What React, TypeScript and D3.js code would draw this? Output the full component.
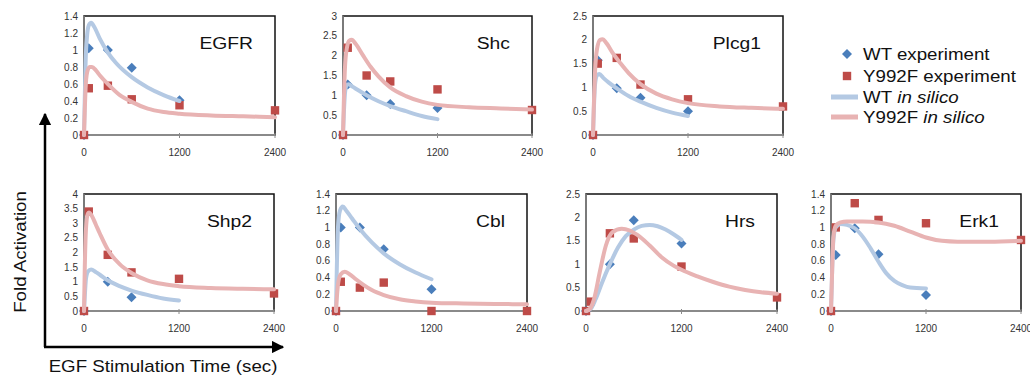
import * as d3 from "d3";

// panel titles and y ranges
const panelNames = ["EGFR", "Shc", "Plcg1", "Shp2", "Cbl", "Hrs", "Erk1"];
const panelYMax = [1.4, 3, 2.5, 4, 1.4, 2.5, 1.4];
const panelYStep = [0.2, 0.5, 0.5, 0.5, 0.2, 0.5, 0.2];
const xTicks = [0, 1200, 2400];

// experiment sampling times (sec)
const wtTimes = [0, 60, 300, 600, 1200];
const y992fTimes = [0, 60, 300, 600, 1200, 2400];

// experiment values, one row per panel (null = not shown)
const wtExperiment: (number | null)[][] = [
  [0, 1.02, 1.0, 0.79, 0.41],
  [0, 1.27, 1.0, 0.78, 0.68],
  [0, 1.57, 0.98, 0.78, 0.5],
  [0, null, 1.0, 0.47, null],
  [0, 1.0, 1.0, 0.74, 0.26],
  [0, null, 1.0, 1.94, 1.44],
  [0, 0.67, 0.99, 0.68, 0.19],
];
const y992fExperiment: (number | null)[][] = [
  [0, 0.55, 0.58, 0.42, 0.35, 0.29],
  [0, 2.2, 1.5, 1.35, 1.15, 0.63],
  [0, 1.5, 1.62, 1.06, 0.75, 0.6],
  [0, 3.4, 1.92, 1.32, 1.1, 0.6],
  [0, 0.35, 0.28, 0.34, 0, 0],
  [0, 0.2, 1.66, 1.55, 0.95, 0.29],
  [0, 1.0, 1.29, 1.09, 1.05, 0.85],
];

// in silico curves, [time, value] pairs
const wtInSilico: [number, number][][] = [
  [[0, 0], [10, 0.45], [20, 0.85], [40, 1.18], [60, 1.29], [90, 1.32], [130, 1.27], [200, 1.13], [300, 0.97], [400, 0.85], [600, 0.68], [800, 0.56], [1000, 0.47], [1200, 0.4]],
  [[0, 0], [10, 0.5], [25, 1.05], [45, 1.25], [70, 1.28], [120, 1.22], [200, 1.12], [300, 1.0], [450, 0.85], [600, 0.73], [800, 0.6], [1000, 0.48], [1200, 0.4]],
  [[0, 0], [10, 0.5], [25, 1.05], [50, 1.25], [80, 1.28], [130, 1.2], [200, 1.1], [300, 0.98], [450, 0.82], [600, 0.7], [800, 0.57], [1000, 0.47], [1200, 0.4]],
  [[0, 0], [10, 0.5], [25, 1.1], [50, 1.35], [90, 1.42], [150, 1.33], [200, 1.24], [300, 1.05], [450, 0.85], [600, 0.7], [800, 0.55], [1000, 0.43], [1200, 0.36]],
  [[0, 0], [10, 0.5], [25, 1.0], [50, 1.2], [85, 1.25], [130, 1.2], [200, 1.11], [300, 0.98], [450, 0.82], [600, 0.69], [800, 0.56], [1000, 0.46], [1200, 0.38]],
  [[0, 0], [60, 0.05], [120, 0.25], [200, 0.6], [300, 1.0], [400, 1.35], [500, 1.6], [600, 1.74], [700, 1.82], [800, 1.84], [900, 1.81], [1000, 1.74], [1100, 1.64], [1200, 1.52]],
  [[0, 0], [15, 0.5], [30, 0.85], [60, 1.0], [120, 1.04], [200, 1.03], [300, 0.99], [400, 0.89], [500, 0.75], [600, 0.59], [700, 0.45], [800, 0.36], [900, 0.31], [1000, 0.28], [1200, 0.27]],
];
const y992fInSilico: [number, number][][] = [
  [[0, 0], [10, 0.3], [20, 0.55], [40, 0.74], [70, 0.8], [100, 0.8], [150, 0.76], [200, 0.7], [300, 0.6], [450, 0.47], [600, 0.39], [800, 0.31], [1000, 0.27], [1200, 0.25], [1600, 0.23], [2000, 0.22], [2400, 0.21]],
  [[0, 0], [10, 0.8], [25, 1.7], [50, 2.2], [80, 2.38], [110, 2.4], [160, 2.3], [250, 2.02], [350, 1.72], [450, 1.48], [600, 1.2], [800, 0.98], [1000, 0.84], [1200, 0.76], [1600, 0.7], [2000, 0.67], [2400, 0.64]],
  [[0, 0], [10, 0.6], [25, 1.3], [50, 1.8], [90, 2.0], [120, 2.01], [170, 1.93], [250, 1.72], [350, 1.5], [450, 1.3], [600, 1.07], [800, 0.87], [1000, 0.75], [1200, 0.67], [1600, 0.6], [2000, 0.57], [2400, 0.55]],
  [[0, 0], [10, 1.5], [25, 2.8], [45, 3.3], [65, 3.37], [100, 3.25], [150, 2.95], [200, 2.65], [300, 2.1], [450, 1.6], [600, 1.3], [800, 1.05], [1000, 0.92], [1200, 0.85], [1600, 0.79], [2000, 0.76], [2400, 0.74]],
  [[0, 0], [10, 0.15], [30, 0.35], [60, 0.44], [110, 0.47], [170, 0.44], [250, 0.38], [350, 0.31], [450, 0.25], [600, 0.19], [800, 0.14], [1000, 0.115], [1200, 0.1], [1600, 0.09], [2000, 0.085], [2400, 0.08]],
  [[0, 0], [50, 0.05], [100, 0.25], [175, 0.85], [250, 1.4], [330, 1.68], [450, 1.76], [550, 1.72], [650, 1.62], [800, 1.4], [950, 1.15], [1100, 0.97], [1200, 0.88], [1400, 0.74], [1600, 0.62], [1800, 0.52], [2000, 0.45], [2200, 0.4], [2400, 0.37]],
  [[0, 0], [15, 0.5], [30, 0.88], [60, 1.02], [120, 1.06], [200, 1.07], [400, 1.07], [600, 1.06], [800, 1.02], [1000, 0.95], [1200, 0.88], [1400, 0.84], [1600, 0.83], [2000, 0.83], [2400, 0.84]],
];

const legendLabels = ["WT experiment", "Y992F experiment", "WT", "Y992F"];

// layout of each plot area (pixels)
const boxes = [
  { l: 84, r: 275, t: 16, b: 135 },
  { l: 343, r: 532, t: 16, b: 135 },
  { l: 593, r: 783, t: 16, b: 135 },
  { l: 84, r: 274, t: 194, b: 311 },
  { l: 336, r: 527, t: 194, b: 311 },
  { l: 586, r: 777, t: 194, b: 311 },
  { l: 831, r: 1021, t: 194, b: 311 },
];

const BLUE = "#4a7ebb";
const RED = "#be4b48";
const BLUE_LINE = "#b4c9e3";
const RED_LINE = "#e8b3b3";
const FONT = "'Liberation Sans', Arial, sans-serif";
const STRETCH = 1.17;

function Diamond({ x, y }: { x: number; y: number }) {
  const s = 5;
  return <path d={`M${x},${y - s}L${x + s},${y}L${x},${y + s}L${x - s},${y}Z`} fill={BLUE} />;
}

function Square({ x, y }: { x: number; y: number }) {
  const s = 4.2;
  return <rect x={x - s} y={y - s} width={2 * s} height={2 * s} fill={RED} />;
}

function Panel({ i }: { i: number }) {
  const box = boxes[i];
  const x = d3.scaleLinear().domain([0, 2400]).range([box.l, box.r]);
  const y = d3.scaleLinear().domain([0, panelYMax[i]]).range([box.b, box.t]);
  const yTicks = d3.range(0, panelYMax[i] + 1e-9, panelYStep[i]);
  const fmt = (v: number) => String(Math.round(v * 10) / 10);
  const line = d3
    .line<[number, number]>()
    .x((d) => x(d[0]))
    .y((d) => y(d[1]))
    .curve(d3.curveMonotoneX);

  return (
    <g>
      <rect x={box.l} y={box.t} width={box.r - box.l} height={box.b - box.t} fill="white" stroke="#111" strokeWidth={1.5} />
      <line x1={box.l} x2={box.l} y1={box.t} y2={box.b} stroke="#8a8a8a" strokeWidth={1.5} />
      <line x1={box.l} x2={box.r} y1={box.b} y2={box.b} stroke="#8a8a8a" strokeWidth={2} />
      {xTicks.map((t) => (
        <g key={t}>
          <line x1={x(t)} x2={x(t)} y1={box.b - 2} y2={box.b + 3} stroke="#8a8a8a" strokeWidth={1} />
          <text x={x(t)} y={box.b + 21} textAnchor="middle" fontSize={10} fill="#333" fontFamily={FONT}>
            {t}
          </text>
        </g>
      ))}
      {yTicks.map((v) => (
        <text key={v} x={box.l - 6} y={y(v) + 3.5} textAnchor="end" fontSize={10} fill="#333" fontFamily={FONT}>
          {fmt(v)}
        </text>
      ))}
      {wtExperiment[i].map((v, k) => (v === null ? null : <Diamond key={"w" + k} x={x(wtTimes[k])} y={y(v)} />))}
      {y992fExperiment[i].map((v, k) => (v === null ? null : <Square key={"m" + k} x={x(y992fTimes[k])} y={y(v)} />))}
      <path d={line(wtInSilico[i]) || ""} fill="none" stroke={BLUE_LINE} strokeWidth={4} strokeLinecap="round" />
      <path d={line(y992fInSilico[i]) || ""} fill="none" stroke={RED_LINE} strokeWidth={4} strokeLinecap="round" />
      <text
        transform={`translate(${box.r - 22},${box.t + 33}) scale(${STRETCH},1)`}
        textAnchor="end"
        fontSize={16.5}
        fill="#111"
        fontFamily={FONT}
      >
        {panelNames[i]}
      </text>
    </g>
  );
}

function Legend() {
  const rows = [54, 76, 97, 117];
  const textX = 863;
  return (
    <g fontFamily={FONT} fontSize={16} fill="#111">
      <Diamond x={847} y={rows[0]} />
      <Square x={847} y={rows[1]} />
      <rect x={831} y={rows[2] - 2.5} width={27} height={5} fill={BLUE_LINE} />
      <rect x={831} y={rows[3] - 2.5} width={27} height={5} fill={RED_LINE} />
      {legendLabels.map((lab, k) => (
        <text key={lab} transform={`translate(${textX},${rows[k] + 5.5}) scale(${STRETCH},1)`}>
          {lab}
          {k >= 2 ? <tspan fontStyle="italic"> in silico</tspan> : null}
        </text>
      ))}
    </g>
  );
}

export default function App() {
  return (
    <svg width={1030} height={376} style={{ position: "absolute", left: 0, top: 0, background: "white" }}>
      <defs>
        <marker id="arrow" viewBox="0 0 10 10" refX={9} refY={5} markerWidth={5} markerHeight={5} orient="auto">
          <path d="M0,0L10,5L0,10Z" fill="#000" />
        </marker>
      </defs>
      {boxes.map((_, i) => (
        <Panel key={i} i={i} />
      ))}
      <Legend />
      <path d="M45,347L45,114" stroke="#000" strokeWidth={2.5} markerEnd="url(#arrow)" />
      <path d="M44,347L283,347" stroke="#000" strokeWidth={2.5} markerEnd="url(#arrow)" />
      <text
        transform={`translate(26,252) rotate(-90) scale(${STRETCH},1)`}
        textAnchor="middle"
        fontSize={16}
        fill="#111"
        fontFamily={FONT}
      >
        Fold Activation
      </text>
      <text
        transform={`translate(163,372) scale(${STRETCH},1)`}
        textAnchor="middle"
        fontSize={16}
        fill="#111"
        fontFamily={FONT}
      >
        EGF Stimulation Time (sec)
      </text>
    </svg>
  );
}
